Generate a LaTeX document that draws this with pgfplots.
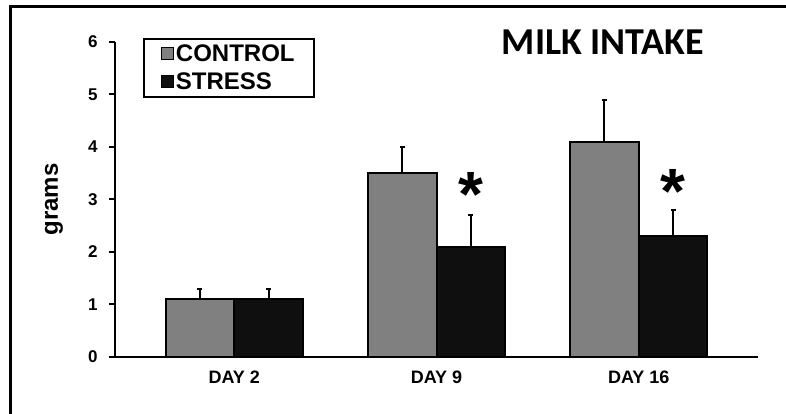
\documentclass[border=0pt]{standalone}
\usepackage{fontspec}
\setmainfont{Liberation Sans}
\newfontfamily\carlito{Carlito}
\usepackage{pgfplots}
\pgfplotsset{compat=1.18}
\definecolor{ctrl}{HTML}{808080}
\definecolor{strs}{HTML}{0F0F0F}
\begin{document}
\begin{tikzpicture}[x=1pt,y=1pt]
\useasboundingbox (0,0) rectangle (786,414);
\fill[white] (0,0) rectangle (786,414);
\draw[line width=3pt] (10,0) -- (10,407) -- (786,407);
\begin{axis}[
  at={(115pt,57pt)}, anchor=south west,
  scale only axis, width=643pt, height=315pt,
  xmin=-0.59, xmax=2.59, ymin=0, ymax=6,
  ybar=0pt, bar width=0.34,
  axis x line*=bottom, axis y line*=left,
  axis line style={line width=2.5pt,-},
  xtick={0,1,2}, xticklabels={DAY 2,DAY 9,DAY 16},
  xtick style={draw=none},
  ytick={0,1,2,3,4,5,6},
  yticklabel={\bfseries\fontsize{17}{19}\selectfont\pgfmathprintnumber[assume math mode=true]{\tick}},
  tick align=outside, major tick length=6pt,
  ytick style={line width=2pt,black},
  yticklabel style={xshift=-8pt},
  xticklabel style={font=\bfseries\fontsize{18}{20}\selectfont, yshift=-4pt},
  ylabel={grams},
  ylabel style={at={(axis description cs:-0.095,0.5)}, anchor=center, font=\bfseries\fontsize{24}{26}\selectfont},
  legend style={at={(axis description cs:0.0435,1.013)}, anchor=north west, draw=black, line width=2pt,
    font=\bfseries\fontsize{24}{26}\selectfont, inner xsep=17pt, inner ysep=4pt, row sep=6pt},
  legend cell align=left,
  legend image code/.code={\draw[#1, line width=1pt] (0pt,-5pt) rectangle (12pt,7pt);},
  clip=false,
]
\addplot[fill=ctrl, draw=black, line width=2pt,
  error bars/.cd, y dir=plus, y explicit, error bar style={line width=2pt,black},
  error mark options={line width=2pt, mark size=2.5pt, rotate=90}]
  coordinates {(0,1.1) +- (0,0.2) (1,3.5) +- (0,0.5) (2,4.1) +- (0,0.8)};
\addlegendentry{CONTROL}
\addplot[fill=strs, draw=black, line width=2pt,
  error bars/.cd, y dir=plus, y explicit, error bar style={line width=2pt,black},
  error mark options={line width=2pt, mark size=2.5pt, rotate=90}]
  coordinates {(0,1.1) +- (0,0.2) (1,2.1) +- (0,0.6) (2,2.3) +- (0,0.5)};
\addlegendentry{STRESS}
\node[font=\bfseries\fontsize{64}{64}\selectfont] at (axis cs:1.17,3.1) {*};
\node[font=\bfseries\fontsize{64}{64}\selectfont] at (axis cs:2.17,3.16) {*};
\end{axis}
\node[font=\carlito\bfseries\fontsize{38}{38}\selectfont] at (603,372) {MILK INTAKE};
\end{tikzpicture}
\end{document}
